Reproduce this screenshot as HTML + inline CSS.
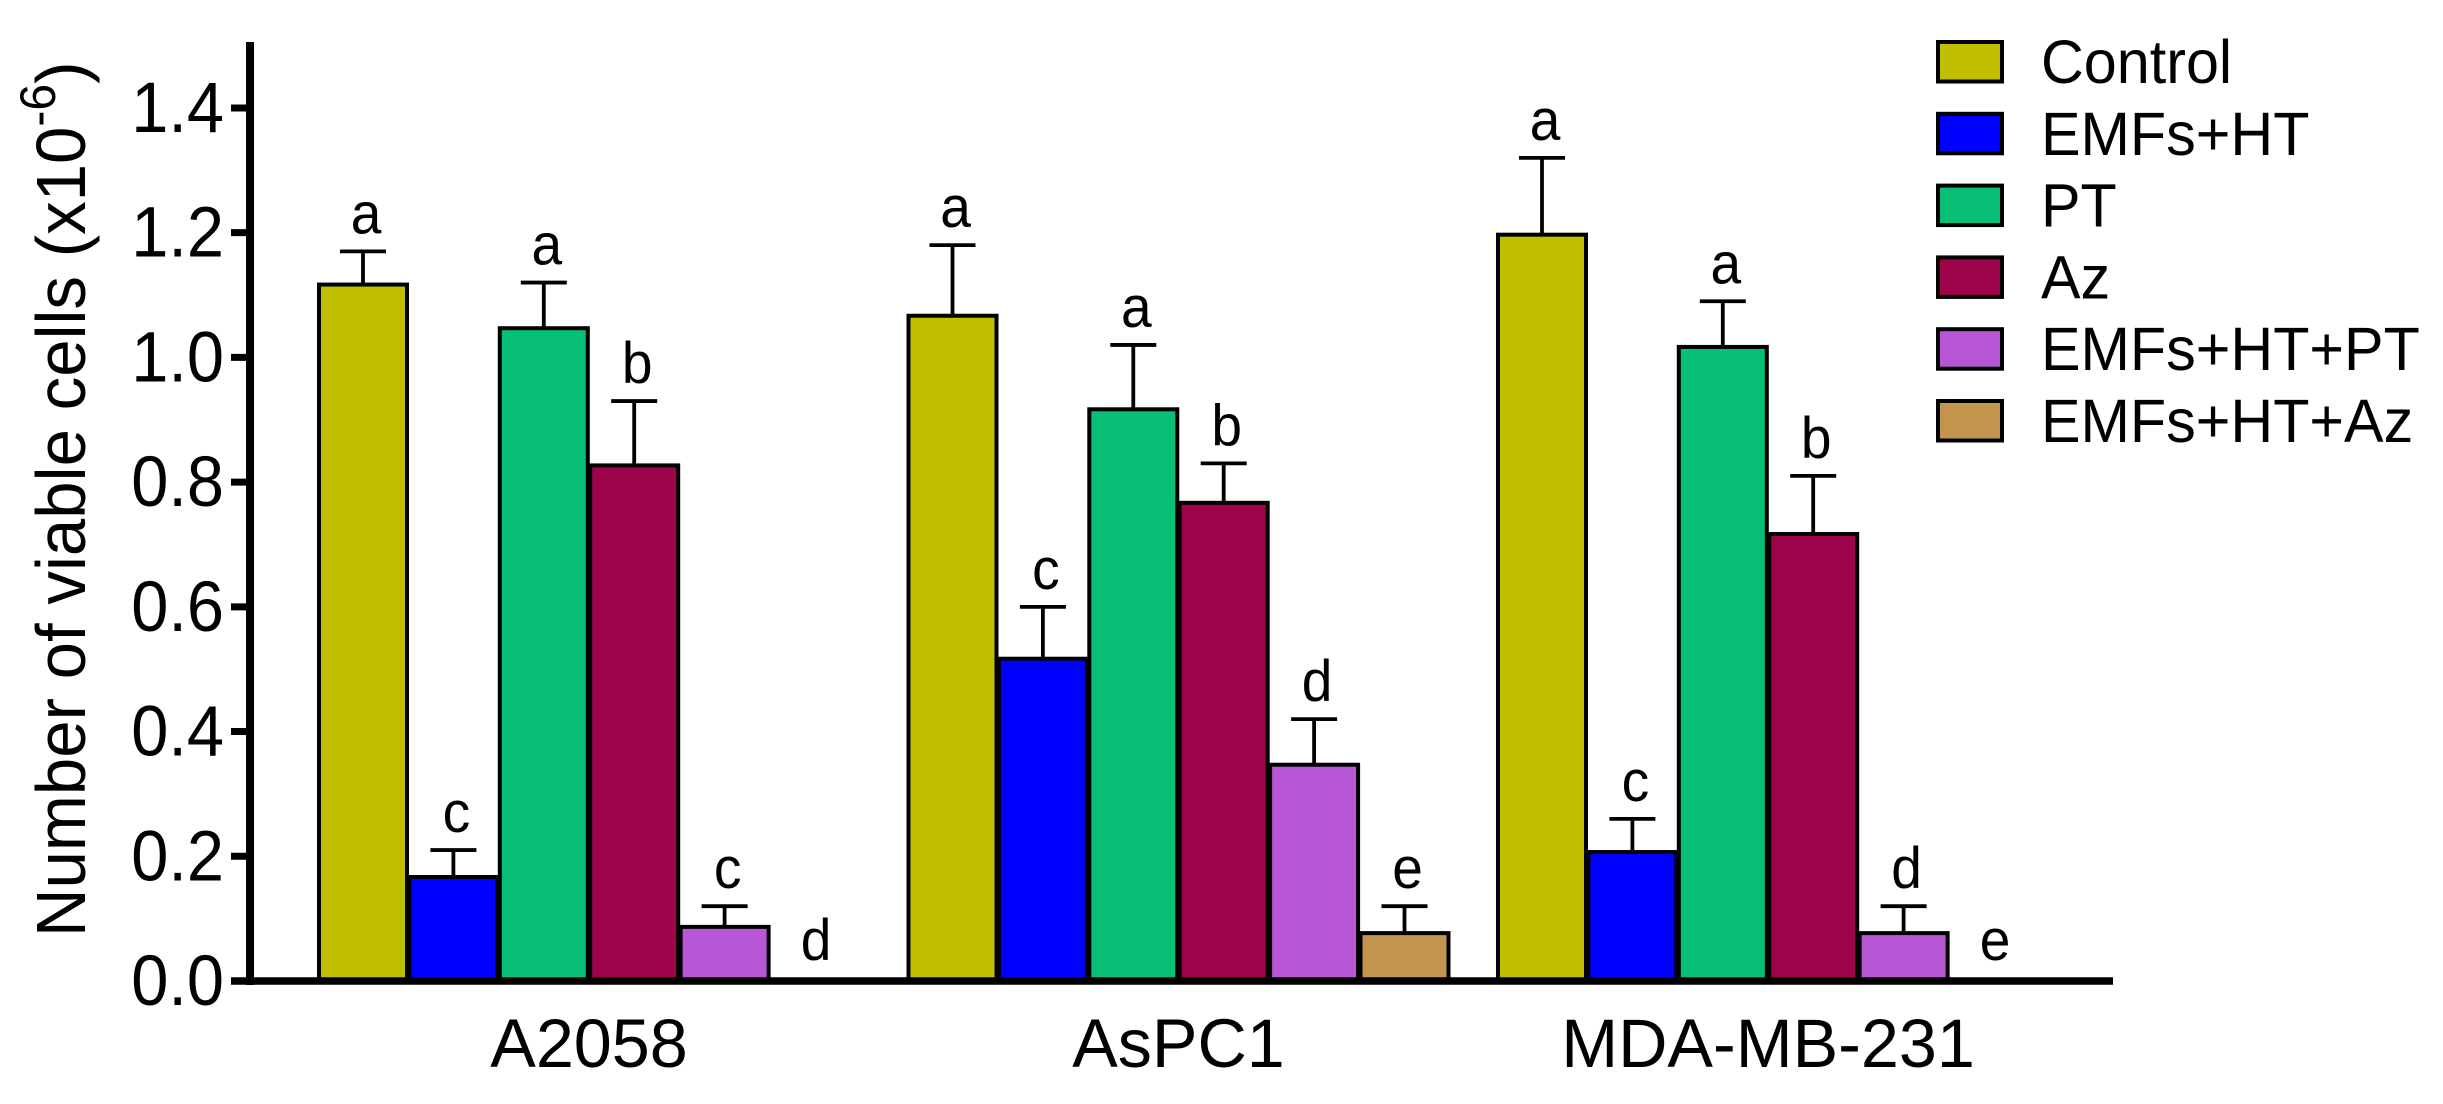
<!DOCTYPE html>
<html>
<head>
<meta charset="utf-8">
<title>Number of viable cells</title>
<style>
html,body{margin:0;padding:0;background:#fff;width:2443px;height:1104px;overflow:hidden}
svg{display:block}
text{font-family:"Liberation Sans",Arial,sans-serif;fill:#000}
</style>
</head>
<body>
<svg id="chart" xmlns="http://www.w3.org/2000/svg" width="2443" height="1104" viewBox="0 0 2443 1104">
  <text transform="translate(85,937) rotate(-90) scale(0.96,1)" font-size="70">Number of viable cells (x10<tspan dy="-30" font-size="50">-6</tspan><tspan dy="30">)</tspan></text>
</svg>
<script>
const categories = ['A2058', 'AsPC1', 'MDA-MB-231'];
const seriesNames = ['Control', 'EMFs+HT', 'PT', 'Az', 'EMFs+HT+PT', 'EMFs+HT+Az'];
const seriesColors = ['#BFBF00', '#0000FF', '#07BF76', '#9E044A', '#B857D6', '#C2954F'];
const controlValues = [1.12, 1.07, 1.20];
const emfsHtValues = [0.17, 0.52, 0.21];
const ptValues = [1.05, 0.92, 1.02];
const azValues = [0.83, 0.77, 0.72];
const emfsHtPtValues = [0.09, 0.35, 0.08];
const emfsHtAzValues = [0, 0.08, 0];
const controlErrors = [0.05, 0.11, 0.12];
const emfsHtErrors = [0.04, 0.08, 0.05];
const ptErrors = [0.07, 0.10, 0.07];
const azErrors = [0.10, 0.06, 0.09];
const emfsHtPtErrors = [0.03, 0.07, 0.04];
const emfsHtAzErrors = [0, 0.04, 0];
const controlLetters = ['a', 'a', 'a'];
const emfsHtLetters = ['c', 'c', 'c'];
const ptLetters = ['a', 'a', 'a'];
const azLetters = ['b', 'b', 'b'];
const emfsHtPtLetters = ['c', 'd', 'd'];
const emfsHtAzLetters = ['d', 'e', 'e'];
const yTickLabels = ['0.0', '0.2', '0.4', '0.6', '0.8', '1.0', '1.2', '1.4'];

const allValues = [controlValues, emfsHtValues, ptValues, azValues, emfsHtPtValues, emfsHtAzValues];
const allErrors = [controlErrors, emfsHtErrors, ptErrors, azErrors, emfsHtPtErrors, emfsHtAzErrors];
const allLetters = [controlLetters, emfsHtLetters, ptLetters, azLetters, emfsHtPtLetters, emfsHtAzLetters];

const svg = document.getElementById('chart');
const NS = 'http://www.w3.org/2000/svg';
function yScale(v) { return 981 - v * 623.6; }
function xScale(g, s) { return 363 + 589.5 * g + 90.4 * s; }
function make(tag, attrs, parent) {
  const el = document.createElementNS(NS, tag);
  for (const k in attrs) el.setAttribute(k, attrs[k]);
  (parent || svg).appendChild(el);
  return el;
}

const barsLayer = make('g', {});


const barW = 88;

categories.forEach(function (cat, g) {
  seriesNames.forEach(function (name, s) {
    const v = allValues[s][g];
    const e = allErrors[s][g];
    const cx = xScale(g, s);
    if (v > 0) {
      const top = yScale(v) + 2;
      const errTop = yScale(v + e);
      const stem = make('line', {x1: cx, x2: cx, y1: top, y2: errTop, stroke: '#000', 'stroke-width': 3.8}, barsLayer);
      
      
      const cap = make('line', {x1: cx - 23, x2: cx + 23, y1: errTop, y2: errTop, stroke: '#000', 'stroke-width': 3.8}, barsLayer);
      
      
      const bar = make('rect', {x: cx - barW / 2, y: top, width: barW, height: yScale(0) - top, fill: seriesColors[s], stroke: '#000', 'stroke-width': 4}, barsLayer);
      
      
    }
    const labelY = v > 0 ? yScale(v + e) - 18 : yScale(0) - 21;
    const labelX = v > 0 ? cx + 3 : cx + 1;
    const letter = make('text', {transform: 'translate(' + labelX + ',' + labelY + ') scale(0.95,1)', 'font-size': 58, 'text-anchor': 'middle'});
    
    
    letter.textContent = allLetters[s][g];
  });
  const label = make('text', {transform: 'translate(' + xScale(g, 2.5) + ',1067) scale(0.99,1)', 'font-size': 69, 'text-anchor': 'middle'});
  
  
  label.textContent = cat;
});

const yAxis = make('line', {x1: 250, x2: 250, y1: 42, y2: 985, stroke: '#000', 'stroke-width': 8});


const xAxis = make('line', {x1: 231, x2: 2113, y1: 981, y2: 981, stroke: '#000', 'stroke-width': 7.5});



yTickLabels.forEach(function (t) {
  const y = yScale(parseFloat(t));
  const tick = make('line', {x1: 231, x2: 250, y1: y, y2: y, stroke: '#000', 'stroke-width': 7});
  
  
  const txt = make('text', {transform: 'translate(224,' + (y + 24) + ') scale(0.94,1)', 'font-size': 71, 'text-anchor': 'end'});
  
  
  txt.textContent = t;
});

const legend = make('g', {});


seriesNames.forEach(function (name, s) {
  const top = 42 + 71.8 * s;
  const swatch = make('rect', {x: 1938, y: top, width: 64, height: 39.5, fill: seriesColors[s], stroke: '#000', 'stroke-width': 4}, legend);
  
  
  const txt = make('text', {transform: 'translate(2041,' + (top + 41) + ') scale(0.972,1)', 'font-size': 61}, legend);
  
  
  txt.textContent = name;
});
</script>
</body>
</html>
